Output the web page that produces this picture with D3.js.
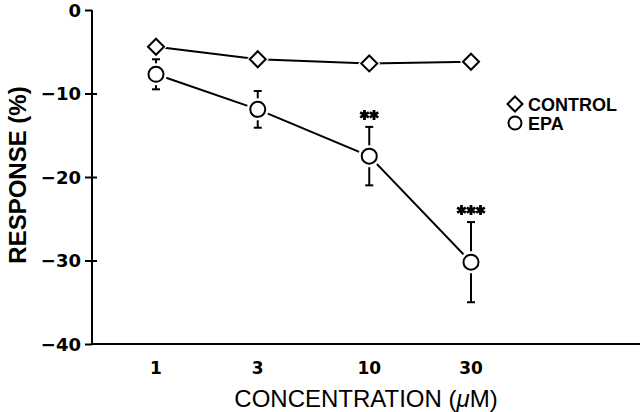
<!DOCTYPE html>
<html>
<head>
<meta charset="utf-8">
<script src="https://cdn.jsdelivr.net/npm/d3@7"></script>
<style>
  body { margin: 0; background: #fff; }
  text { font-family: "Liberation Sans", Arial, sans-serif; fill: #000; }
  .num { font-family: "DejaVu Sans", sans-serif; }
</style>
</head>
<body>
<svg id="chart" width="640" height="412"></svg>
<script>
// values
var conc = [1, 3, 10, 30];
var control = [-4.4, -5.9, -6.4, -6.2];
var epa = [-7.7, -11.9, -17.5, -30.2];
var epaErr = [1.8, 2.2, 3.5, 4.8];
var stars = [0, 0, 2, 3];
var yTicks = [0, -10, -20, -30, -40];

var svg = d3.select("#chart");

var x = d3.scaleLog().domain([1, 30]).range([156, 471]);
var y = d3.scaleLinear().domain([-40, 0]).range([344, 10]);

var axisX = 92;

// y axis
var yAxis = svg.append("g")
    .attr("transform", "translate(" + axisX + ",0)")
    .call(d3.axisLeft(y).tickValues(yTicks).tickSize(7).tickPadding(4)
        .tickFormat(function(d) { return d == 0 ? "0" : "\u2212" + Math.abs(d); }));
yAxis.select(".domain").remove();
yAxis.selectAll(".tick line")
    .attr("stroke-width", 2)
    .attr("x2", function(d) { return (d == 0 || d == -40) ? 0 : 5; })
    .attr("x1", -7);
yAxis.selectAll(".tick text")
    .attr("class", "num")
    .attr("font-size", 18)
    .attr("font-weight", "bold")
    .attr("dy", "0.36em");

svg.append("line")
    .attr("x1", axisX).attr("x2", axisX)
    .attr("y1", y(0)).attr("y2", y(-40))
    .attr("stroke", "#000").attr("stroke-width", 2);
svg.append("line")
    .attr("x1", axisX).attr("x2", 640)
    .attr("y1", y(-40)).attr("y2", y(-40))
    .attr("stroke", "#000").attr("stroke-width", 2);

// category labels
svg.selectAll(".xlab")
    .data(conc)
    .enter().append("text")
    .attr("class", "num")
    .attr("x", function(d) { return x(d); })
    .attr("y", 374)
    .attr("text-anchor", "middle")
    .attr("font-size", 17)
    .attr("font-weight", "bold")
    .text(function(d) { return d; });

// axis titles
var xt = svg.append("text")
    .attr("x", 366).attr("y", 407)
    .attr("text-anchor", "middle")
    .attr("font-size", 24);
xt.append("tspan").text("CONCENTRATION (");
xt.append("tspan").attr("font-style", "italic").text("\u03bc");
xt.append("tspan").text("M)");

svg.append("text")
    .attr("transform", "translate(26,175) rotate(-90)")
    .attr("text-anchor", "middle")
    .attr("font-size", 24)
    .attr("font-weight", "bold")
    .text("RESPONSE (%)");

var ctrlData = conc.map(function(c, i) { return { c: c, v: control[i] }; });
var epaData = conc.map(function(c, i) { return { c: c, v: epa[i], e: epaErr[i], s: stars[i] }; });

var line = d3.line()
    .x(function(d) { return x(d.c); })
    .y(function(d) { return y(d.v); });

svg.append("path").datum(ctrlData)
    .attr("d", line).attr("fill", "none")
    .attr("stroke", "#000").attr("stroke-width", 2);
svg.append("path").datum(epaData)
    .attr("d", line).attr("fill", "none")
    .attr("stroke", "#000").attr("stroke-width", 2);

// error bars
var eb = svg.selectAll(".err")
    .data(epaData)
    .enter().append("g")
    .attr("class", "err");
eb.append("line")
    .attr("x1", function(d) { return x(d.c); })
    .attr("x2", function(d) { return x(d.c); })
    .attr("y1", function(d) { return y(d.v + d.e); })
    .attr("y2", function(d) { return y(d.v - d.e); })
    .attr("stroke", "#000").attr("stroke-width", 2);
eb.append("line")
    .attr("x1", function(d) { return x(d.c) - 4; })
    .attr("x2", function(d) { return x(d.c) + 4; })
    .attr("y1", function(d) { return y(d.v + d.e); })
    .attr("y2", function(d) { return y(d.v + d.e); })
    .attr("stroke", "#000").attr("stroke-width", 2);
eb.append("line")
    .attr("x1", function(d) { return x(d.c) - 4; })
    .attr("x2", function(d) { return x(d.c) + 4; })
    .attr("y1", function(d) { return y(d.v - d.e); })
    .attr("y2", function(d) { return y(d.v - d.e); })
    .attr("stroke", "#000").attr("stroke-width", 2);

// markers with white halo so lines stop short
var diamond = function(cx, cy, r) {
    return "M" + cx + "," + (cy - r) + "L" + (cx + r) + "," + cy +
        "L" + cx + "," + (cy + r) + "L" + (cx - r) + "," + cy + "Z";
};

svg.selectAll(".dhalo")
    .data(ctrlData)
    .enter().append("path")
    .attr("d", function(d) { return diamond(x(d.c), y(d.v), 11); })
    .attr("fill", "#fff");
svg.selectAll(".dmark")
    .data(ctrlData)
    .enter().append("path")
    .attr("d", function(d) { return diamond(x(d.c), y(d.v), 8); })
    .attr("fill", "#fff").attr("stroke", "#000").attr("stroke-width", 2);

svg.selectAll(".chalo")
    .data(epaData)
    .enter().append("circle")
    .attr("cx", function(d) { return x(d.c); })
    .attr("cy", function(d) { return y(d.v); })
    .attr("r", 11)
    .attr("fill", "#fff");
svg.selectAll(".cmark")
    .data(epaData)
    .enter().append("circle")
    .attr("cx", function(d) { return x(d.c); })
    .attr("cy", function(d) { return y(d.v); })
    .attr("r", 7.5)
    .attr("fill", "#fff").attr("stroke", "#000").attr("stroke-width", 2);

// significance stars
var star = d3.symbol().type(d3.symbolAsterisk).size(70);
epaData.forEach(function(d) {
    for (var k = 0; k < d.s; k++) {
        var sx = x(d.c) + (k - (d.s - 1) / 2) * 9.5;
        svg.append("path")
            .attr("d", star)
            .attr("transform", "translate(" + sx + "," + (y(d.v + d.e) - 12) + ")")
            .attr("fill", "none")
            .attr("stroke", "#000")
            .attr("stroke-width", 2.8);
    }
});

// legend
svg.append("path")
    .attr("d", diamond(515, 104, 7.5))
    .attr("fill", "#fff").attr("stroke", "#000").attr("stroke-width", 2);
svg.append("circle")
    .attr("cx", 515).attr("cy", 123).attr("r", 6.5)
    .attr("fill", "#fff").attr("stroke", "#000").attr("stroke-width", 2);
svg.append("text")
    .attr("x", 528).attr("y", 111)
    .attr("font-size", 18).attr("font-weight", "bold")
    .text("CONTROL");
svg.append("text")
    .attr("x", 528).attr("y", 130)
    .attr("font-size", 18).attr("font-weight", "bold")
    .text("EPA");
</script>
</body>
</html>
